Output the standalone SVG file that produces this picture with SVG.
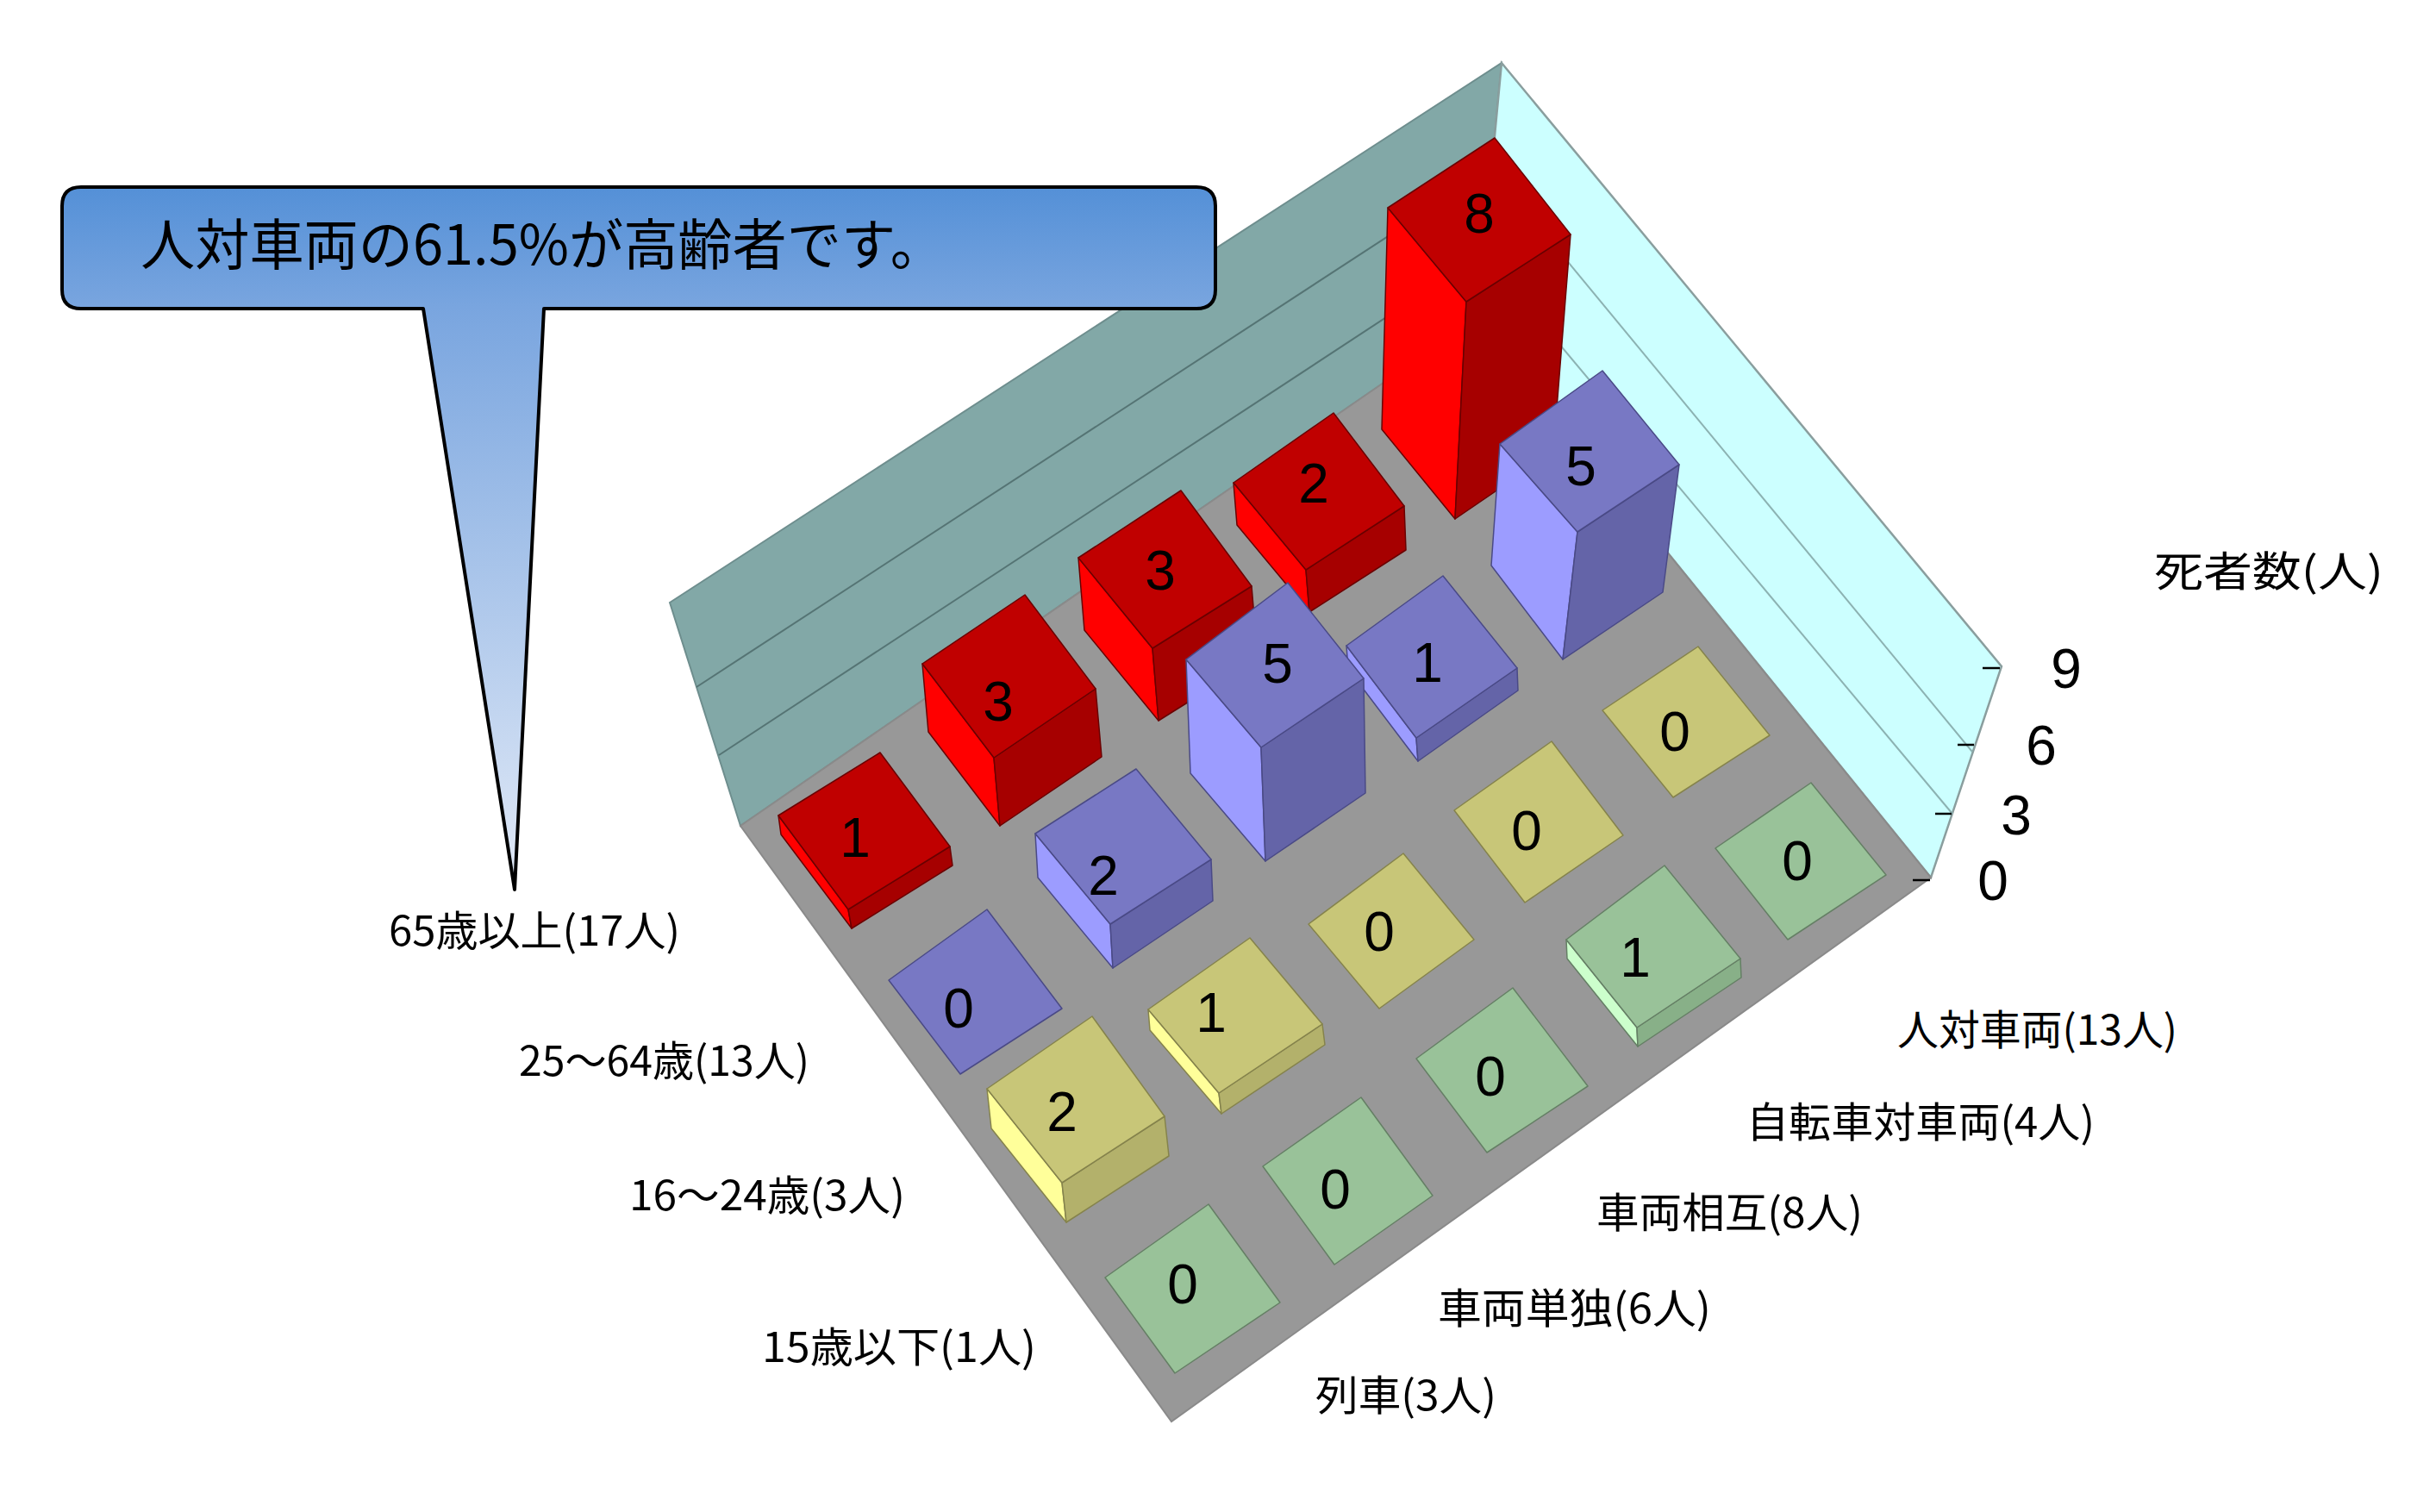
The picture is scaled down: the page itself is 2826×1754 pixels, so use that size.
<svg xmlns="http://www.w3.org/2000/svg" width="2826" height="1754" viewBox="0 0 2826 1754">
<defs>
<linearGradient id="callGrad" gradientUnits="userSpaceOnUse" x1="0" y1="217" x2="0" y2="1032">
<stop offset="0" stop-color="#5490D7"/>
<stop offset="0.17" stop-color="#79A5DF"/>
<stop offset="1" stop-color="#E2EAF7"/>
</linearGradient>
<style>
.rt{fill:#C00000}.rl{fill:#FF0000}.rr{fill:#A60000}
.red polygon{stroke:#6A0000;stroke-width:1.5;stroke-linejoin:round}
.bt{fill:#7878C4}.bl{fill:#9C9CFF}.br{fill:#6464A8}
.blue polygon{stroke:#4A4A86;stroke-width:1.5;stroke-linejoin:round}
.yt{fill:#C8C678}.yl{fill:#FFFF9A}.yr{fill:#B3B16B}
.yel polygon{stroke:#85834C;stroke-width:1.5;stroke-linejoin:round}
.gt{fill:#99C299}.gl{fill:#CCFFCC}.gr{fill:#88B088}
.grn polygon{stroke:#657F65;stroke-width:1.5;stroke-linejoin:round}
.v{font-family:"Liberation Sans",Arial,sans-serif;font-size:64px;text-anchor:middle;fill:#000}
.lab{font-family:"Noto Sans CJK JP","Noto Sans CJK SC",sans-serif;font-size:48px;fill:#000}
</style>
</defs>
<rect width="2826" height="1754" fill="#FFFFFF"/>

<g id="walls">
<polygon points="777,699 1742,73 1714,369 859,958" fill="#82A8A7" stroke="#6E8E8E" stroke-width="2"/>
<polygon points="1742,73 2322,773 2240,1018 1714,369" fill="#CCFFFF" stroke="#8A9E9E" stroke-width="2.5"/>
</g>
<g id="gridlines" fill="none">
<line x1="808" y1="797" x2="1730" y2="196" stroke="#557474" stroke-width="2"/>
<line x1="834" y1="876" x2="1721" y2="294" stroke="#557474" stroke-width="2"/>
<line x1="1730" y1="196" x2="2288" y2="872" stroke="#8CB2B2" stroke-width="2"/>
<line x1="1721" y1="294" x2="2265" y2="944" stroke="#8CB2B2" stroke-width="2"/>
</g>
<g id="floor">
<polygon points="859,958 1714,369 2240,1018 1359,1649" fill="#989898" stroke="#8A8A8A" stroke-width="2"/>
</g>

<g id="axis">
<g stroke="#000" stroke-width="2.5">
<line x1="2300" y1="775" x2="2320" y2="775"/>
<line x1="2271" y1="864" x2="2290" y2="864"/>
<line x1="2245" y1="944" x2="2264" y2="944"/>
<line x1="2219" y1="1021" x2="2239" y2="1021"/>
</g>
<text class="v" x="2397" y="798">9</text>
<text class="v" x="2368" y="887">6</text>
<text class="v" x="2339" y="968">3</text>
<text class="v" x="2312" y="1044">0</text>
<text class="lab" x="2499" y="680" textLength="266" lengthAdjust="spacingAndGlyphs">死者数(人)</text>
</g>

<!-- column 4 -->
<g id="tile-r0-c4" class="red">
<polygon class="rl" points="1610,241 1701,350 1688,602 1603,498"/>
<polygon class="rr" points="1701,350 1822,272 1802,524 1688,602"/>
<polygon class="rt" points="1610,241 1734,160 1822,272 1701,350"/>
<text class="v" x="1716" y="270">8</text>
</g>
<g id="tile-r1-c4" class="blue">
<polygon class="bl" points="1740,515 1830,617 1813,765 1730,656"/>
<polygon class="br" points="1830,617 1948,539 1929,687 1813,765"/>
<polygon class="bt" points="1740,515 1859,430 1948,539 1830,617"/>
<text class="v" x="1834" y="563">5</text>
</g>
<g id="tile-r2-c4" class="yel">
<polygon class="yt" points="1859,824 1970,750 2053,853 1941,925"/>
<text class="v" x="1943" y="871">0</text>
</g>
<g id="tile-r3-c4" class="grn">
<polygon class="gt" points="1990,984 2101,908 2188,1015 2074,1090"/>
<text class="v" x="2085" y="1021">0</text>
</g>

<!-- column 3 -->
<g id="tile-r0-c3" class="red">
<polygon class="rl" points="1431,560 1515,661 1519,710 1435,609"/>
<polygon class="rr" points="1515,661 1629,587 1631,638 1519,710"/>
<polygon class="rt" points="1431,560 1547,479 1629,587 1515,661"/>
<text class="v" x="1524" y="583">2</text>
</g>
<g id="tile-r1-c3" class="blue">
<polygon class="bl" points="1562,749 1643,856 1645,883 1564,776"/>
<polygon class="br" points="1643,856 1760,775 1761,801 1645,883"/>
<polygon class="bt" points="1562,749 1674,668 1760,775 1643,856"/>
<text class="v" x="1656" y="791">1</text>
</g>
<g id="tile-r2-c3" class="yel">
<polygon class="yt" points="1687,940 1800,860 1883,969 1769,1047"/>
<text class="v" x="1771" y="986">0</text>
</g>
<g id="tile-r3-c3" class="grn">
<polygon class="gl" points="1817,1090 1899,1192 1900,1214 1818,1112"/>
<polygon class="gr" points="1899,1192 2019,1112 2020,1134 1900,1214"/>
<polygon class="gt" points="1817,1090 1931,1004 2019,1112 1899,1192"/>
<text class="v" x="1897" y="1133">1</text>
</g>

<!-- column 2 -->
<g id="tile-r0-c2" class="red">
<polygon class="rl" points="1251,647 1337,752 1344,836 1258,731"/>
<polygon class="rr" points="1337,752 1452,680 1459,764 1344,836"/>
<polygon class="rt" points="1251,647 1370,569 1452,680 1337,752"/>
<text class="v" x="1346" y="684">3</text>
</g>
<g id="tile-r1-c2" class="blue">
<polygon class="bl" points="1376,765 1463,867 1468,999 1381,897"/>
<polygon class="br" points="1463,867 1582,787 1584,920 1468,999"/>
<polygon class="bt" points="1376,765 1494,676 1582,787 1463,867"/>
<text class="v" x="1482" y="792">5</text>
</g>
<g id="tile-r2-c2" class="yel">
<polygon class="yt" points="1518,1072 1628,990 1710,1090 1600,1170"/>
<text class="v" x="1600" y="1103">0</text>
</g>
<g id="tile-r3-c2" class="grn">
<polygon class="gt" points="1643,1228 1755,1146 1842,1260 1725,1337"/>
<text class="v" x="1729" y="1271">0</text>
</g>

<!-- column 1 -->
<g id="tile-r0-c1" class="red">
<polygon class="rl" points="1070,770 1153,879 1160,958 1077,849"/>
<polygon class="rr" points="1153,879 1271,799 1278,878 1160,958"/>
<polygon class="rt" points="1070,770 1189,690 1271,799 1153,879"/>
<text class="v" x="1158" y="836">3</text>
</g>
<g id="tile-r1-c1" class="blue">
<polygon class="bl" points="1201,967 1288,1072 1291,1123 1204,1018"/>
<polygon class="br" points="1288,1072 1405,997 1407,1045 1291,1123"/>
<polygon class="bt" points="1201,967 1318,892 1405,997 1288,1072"/>
<text class="v" x="1280" y="1038">2</text>
</g>
<g id="tile-r2-c1" class="yel">
<polygon class="yl" points="1332,1171 1414,1268 1417,1292 1334,1195"/>
<polygon class="yr" points="1414,1268 1534,1188 1537,1212 1417,1292"/>
<polygon class="yt" points="1332,1171 1450,1088 1534,1188 1414,1268"/>
<text class="v" x="1405" y="1197">1</text>
</g>
<g id="tile-r3-c1" class="grn">
<polygon class="gt" points="1465,1353 1579,1273 1662,1387 1548,1467"/>
<text class="v" x="1549" y="1402">0</text>
</g>

<!-- column 0 -->
<g id="tile-r0-c0" class="red">
<polygon class="rl" points="903,946 984,1055 988,1077 906,968"/>
<polygon class="rr" points="984,1055 1102,982 1105,1004 988,1077"/>
<polygon class="rt" points="903,946 1021,873 1102,982 984,1055"/>
<text class="v" x="992" y="994">1</text>
</g>
<g id="tile-r1-c0" class="blue">
<polygon class="bt" points="1031,1137 1145,1055 1232,1170 1114,1246"/>
<text class="v" x="1112" y="1192">0</text>
</g>
<g id="tile-r2-c0" class="yel">
<polygon class="yl" points="1145,1263 1232,1372 1237,1418 1150,1309"/>
<polygon class="yr" points="1232,1372 1351,1295 1356,1341 1237,1418"/>
<polygon class="yt" points="1145,1263 1267,1179 1351,1295 1232,1372"/>
<text class="v" x="1232" y="1312">2</text>
</g>
<g id="tile-r3-c0" class="grn">
<polygon class="gt" points="1282,1482 1402,1397 1485,1511 1363,1593"/>
<text class="v" x="1372" y="1512">0</text>
</g>

<g id="row-labels">
<text class="lab" x="451" y="1097" textLength="338" lengthAdjust="spacingAndGlyphs">65歳以上(17人)</text>
<text class="lab" x="602" y="1248" textLength="337" lengthAdjust="spacingAndGlyphs">25～64歳(13人)</text>
<text class="lab" x="730" y="1404" textLength="320" lengthAdjust="spacingAndGlyphs">16～24歳(3人)</text>
<text class="lab" x="884" y="1580" textLength="318" lengthAdjust="spacingAndGlyphs">15歳以下(1人)</text>
</g>
<g id="column-labels">
<text class="lab" x="2201" y="1212" textLength="325" lengthAdjust="spacingAndGlyphs">人対車両(13人)</text>
<text class="lab" x="2026" y="1319" textLength="404" lengthAdjust="spacingAndGlyphs">自転車対車両(4人)</text>
<text class="lab" x="1852" y="1424" textLength="309" lengthAdjust="spacingAndGlyphs">車両相互(8人)</text>
<text class="lab" x="1668" y="1535" textLength="317" lengthAdjust="spacingAndGlyphs">車両単独(6人)</text>
<text class="lab" x="1526" y="1636" textLength="210" lengthAdjust="spacingAndGlyphs">列車(3人)</text>
</g>

<g id="callout">
<path d="M94,217 H1388 Q1410,217 1410,239 V336 Q1410,358 1388,358 H631 L597,1032 L491,358 H94 Q72,358 72,336 V239 Q72,217 94,217 Z" fill="url(#callGrad)" stroke="#000" stroke-width="4" stroke-linejoin="round"/>
<text x="163" y="307" font-family="'Noto Sans CJK JP','Noto Sans CJK SC',sans-serif" font-size="64" textLength="933" lengthAdjust="spacingAndGlyphs" fill="#000">人対車両の61.5%が高齢者です。</text>
</g>
</svg>
